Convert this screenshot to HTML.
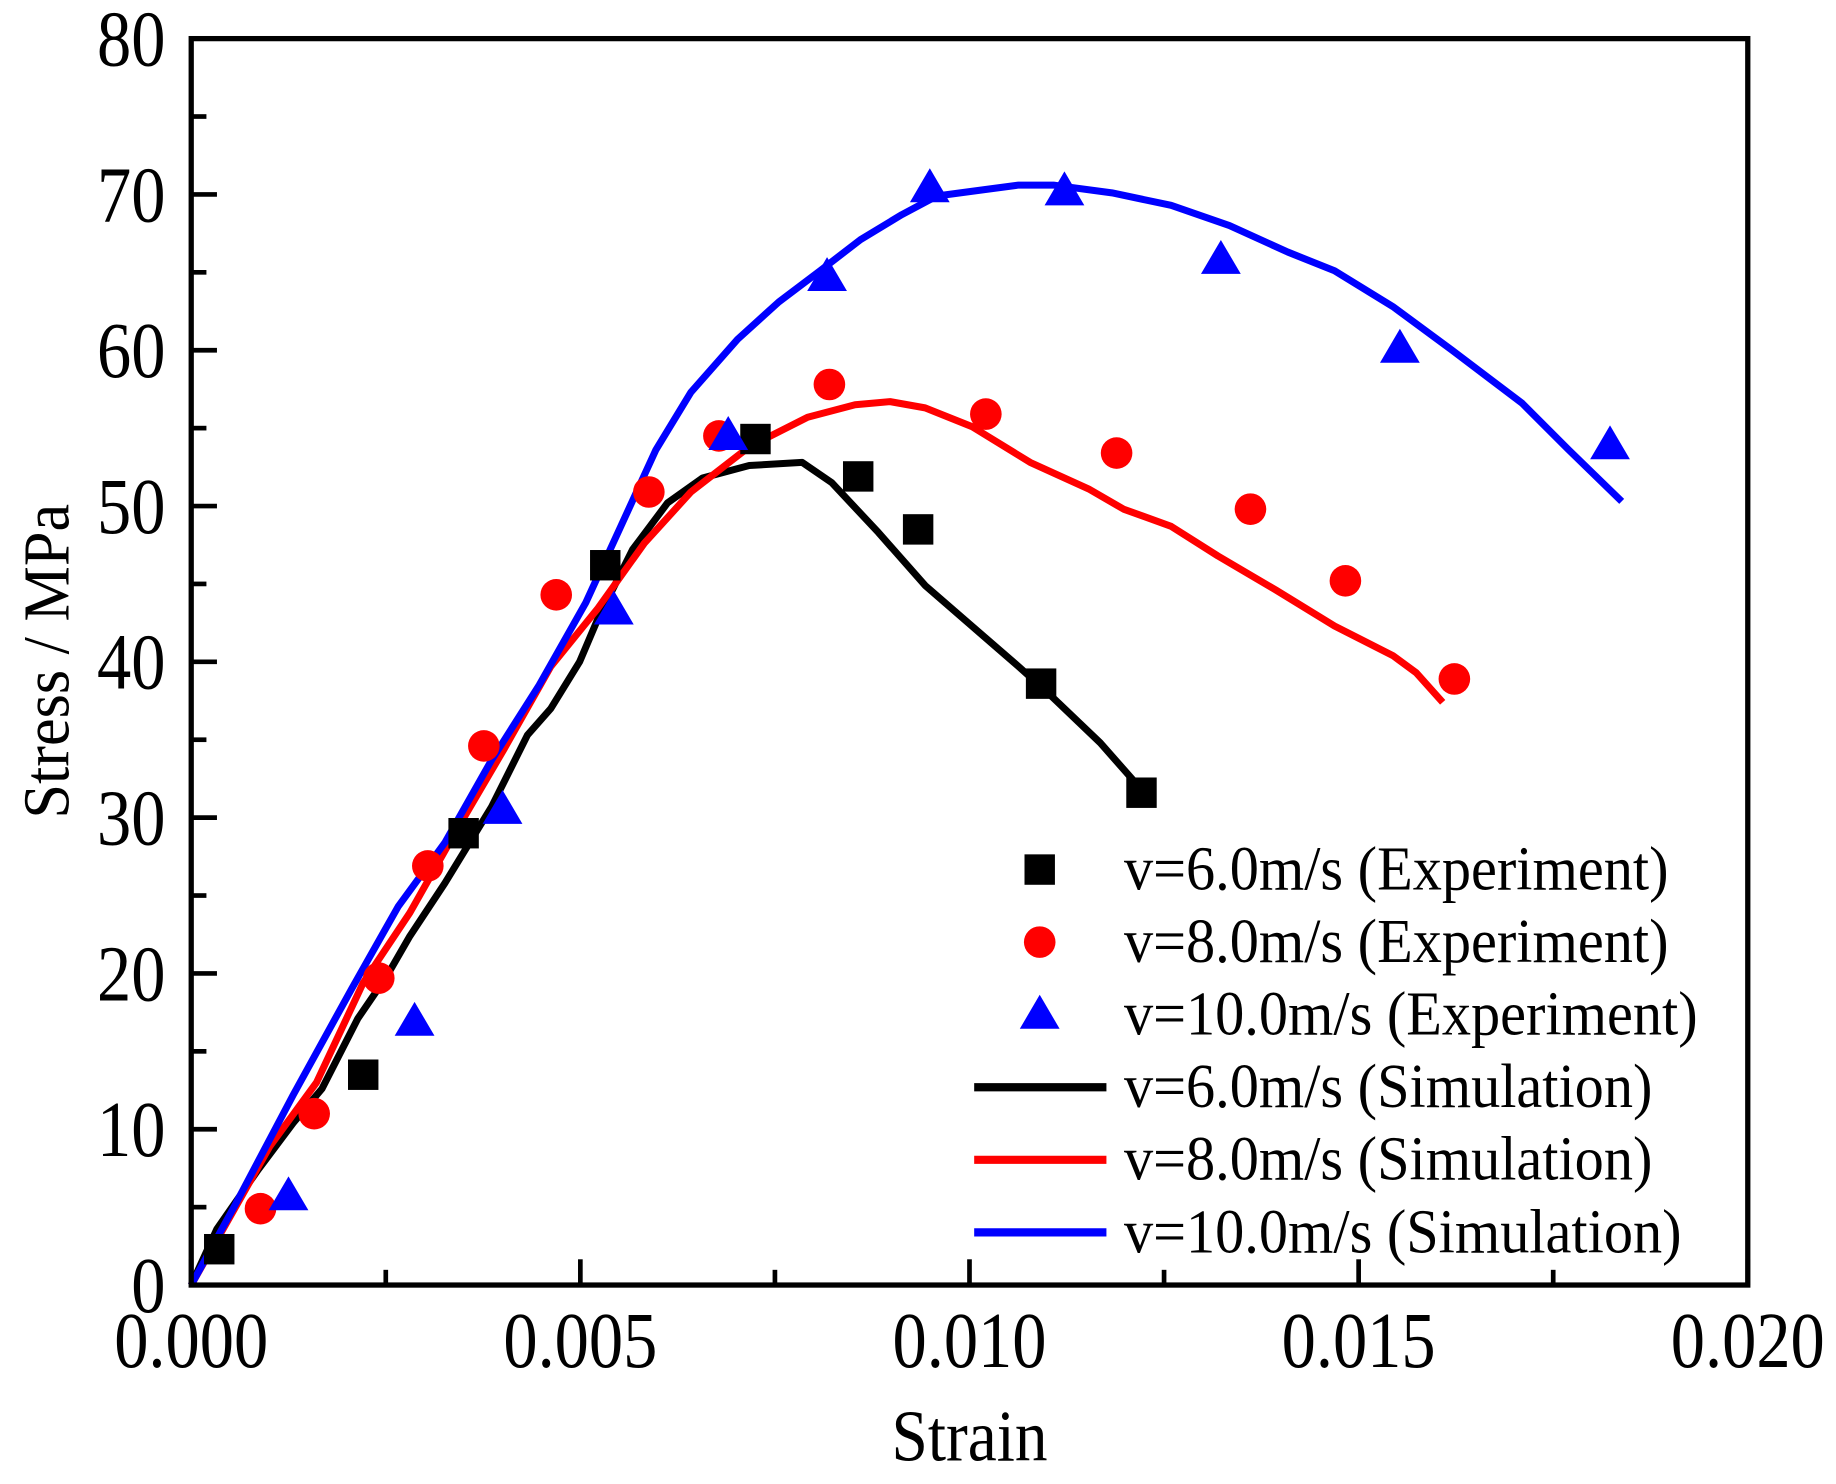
<!DOCTYPE html>
<html><head><meta charset="utf-8"><style>html,body{margin:0;padding:0;background:#fff}svg{display:block}</style></head>
<body>
<svg id="chart" width="1836" height="1484" viewBox="0 0 1568 1268" xmlns="http://www.w3.org/2000/svg" font-family="'Liberation Serif', serif">
<g id="axes"></g>
<g id="series"></g>
<rect x="163" y="33" width="1330" height="1065" fill="none" stroke="#000" stroke-width="4.5"/>
<text transform="translate(828,1248) scale(0.9,1)" font-size="62" text-anchor="middle">Strain</text>
<text transform="translate(58,565) rotate(-90) scale(0.95,1)" font-size="56" text-anchor="middle">Stress / MPa</text>
<g id="legend"></g>
</svg>
<script>
const xTicks=[0,0.005,0.010,0.015,0.020];
const xTickLabels=["0.000","0.005","0.010","0.015","0.020"];
const yTicks=[0,10,20,30,40,50,60,70,80];
const yTickLabels=["0","10","20","30","40","50","60","70","80"];
const exp6x=[0.00036,0.00221,0.0035,0.00532,0.00725,0.00857,0.00934,0.01092,0.01221];
const exp6y=[2.3,13.5,29,46.2,54.3,51.9,48.5,38.6,31.6];
const exp8x=[0.00089,0.00158,0.00241,0.00304,0.00376,0.00469,0.00588,0.00678,0.0082,0.01021,0.01189,0.01361,0.01483,0.01623];
const exp8y=[4.9,11,19.7,26.9,34.6,44.3,50.9,54.5,57.8,55.9,53.4,49.8,45.2,38.9];
const exp10x=[0.00125,0.00287,0.004,0.00543,0.0069,0.00817,0.00949,0.01122,0.01323,0.01553,0.01823];
const exp10y=[5.7,16.9,30.5,43.3,54.5,64.7,70.4,70.2,65.8,60.1,53.9];
const sim6x=[0,0.00033,0.00086,0.00131,0.00168,0.00214,0.00251,0.00281,0.00326,0.00386,0.00432,0.00462,0.00499,0.00522,0.00567,0.00612,0.00657,0.00717,0.00785,0.00823,0.00883,0.00943,0.01003,0.01063,0.01101,0.01168,0.01221];
const sim6y=[0,3.6,7.4,10.4,12.6,17.1,19.8,22.4,25.8,30.7,35.3,37.0,40.0,42.7,47.2,50.2,51.8,52.6,52.8,51.5,48.3,44.9,42.3,39.7,38.0,34.8,31.8];
const sim8x=[0,0.00041,0.00101,0.00161,0.00221,0.00281,0.00341,0.00402,0.00462,0.00522,0.00582,0.00642,0.00717,0.00792,0.00853,0.00898,0.00943,0.01003,0.01078,0.01153,0.01198,0.01259,0.01319,0.01394,0.01469,0.01544,0.01574,0.01608];
const sim8y=[0,3.6,8.9,13.0,19.4,23.9,29.2,34.4,39.7,43.4,47.6,50.9,53.8,55.7,56.5,56.7,56.3,55.1,52.8,51.1,49.8,48.7,46.8,44.6,42.3,40.4,39.3,37.4];
const sim10x=[0,0.00056,0.00131,0.00206,0.00266,0.00326,0.00386,0.00447,0.00507,0.00552,0.00597,0.00642,0.00702,0.00755,0.00808,0.0086,0.00913,0.00958,0.01018,0.01063,0.01108,0.01183,0.01259,0.01334,0.01409,0.01469,0.01544,0.0162,0.0171,0.0177,0.01838];
const sim10y=[0,5.1,12.2,19.0,24.3,28.4,33.7,38.5,43.8,48.7,53.6,57.3,60.7,63.1,65.1,67.1,68.7,69.9,70.3,70.6,70.6,70.1,69.3,68.0,66.3,65.1,62.8,60.0,56.6,53.6,50.3];

const NS="http://www.w3.org/2000/svg";
const X0=163,X1=1493,Y0=1098,Y1=33;
function sx(v){return X0+(v-0)/(0.020)*(X1-X0);}
function sy(v){return Y0-(v/80)*(Y0-Y1);}
function mk(tag,attrs,parent){const e=document.createElementNS(NS,tag);for(const k in attrs)e.setAttribute(k,attrs[k]);parent.appendChild(e);return e;}
const axes=document.getElementById('axes');
xTicks.forEach((t,i)=>{
  const l=mk('line',{x1:sx(t),x2:sx(t),y1:Y0,y2:Y0-22,stroke:'#000','stroke-width':4},axes);
  
  
  const tx=mk('text',{transform:`translate(${sx(t)},1168) scale(0.86,1)`,'font-size':68,'text-anchor':'middle'},axes);
  tx.textContent=xTickLabels[i];
  
  
  if(i<xTicks.length-1){
    const m=mk('line',{x1:sx(t+0.0025),x2:sx(t+0.0025),y1:Y0,y2:Y0-13,stroke:'#000','stroke-width':4},axes);
    
    
  }
});
yTicks.forEach((t,i)=>{
  const l=mk('line',{x1:X0,x2:X0+22,y1:sy(t),y2:sy(t),stroke:'#000','stroke-width':4},axes);
  
  
  const tx=mk('text',{transform:`translate(141,${sy(t)+23}) scale(0.86,1)`,'font-size':68,'text-anchor':'end'},axes);
  tx.textContent=yTickLabels[i];
  
  
  if(i<yTicks.length-1){
    const m=mk('line',{x1:X0,x2:X0+13,y1:sy(t+5),y2:sy(t+5),stroke:'#000','stroke-width':4},axes);
    
    
  }
});
const ser=document.getElementById('series');
function line(xs,ys,color,name){
  const p=mk('polyline',{points:xs.map((x,i)=>sx(x)+','+sy(ys[i])).join(' '),fill:'none',stroke:color,'stroke-width':6,'stroke-linejoin':'round'},ser);
  
  
}
function marker(type,x,y,color,g){
  let e;
  if(type==='sq') e=mk('rect',{x:x-13,y:y-13,width:26,height:26,fill:color},g);
  else if(type==='ci') e=mk('circle',{cx:x,cy:y,r:13.5,fill:color},g);
  else e=mk('polygon',{points:`${x},${y-17} ${x-17},${y+12} ${x+17},${y+12}`,fill:color},g);
  return e;
}
line(sim6x,sim6y,'#000','sim-6-line');
line(sim8x,sim8y,'#f00','sim-8-line');
line(sim10x,sim10y,'#00f','sim-10-line');
[[exp6x,exp6y,'sq','#000','exp-6-point'],[exp8x,exp8y,'ci','#f00','exp-8-point'],[exp10x,exp10y,'tr','#00f','exp-10-point']].forEach(([xs,ys,t,c,n])=>{
  xs.forEach((x,i)=>{
    const e=marker(t,sx(x),sy(ys[i]),c,ser);
    
    
  });
});
const leg=document.getElementById('legend');
const legLabels=["v=6.0m/s (Experiment)","v=8.0m/s (Experiment)","v=10.0m/s (Experiment)","v=6.0m/s (Simulation)","v=8.0m/s (Simulation)","v=10.0m/s (Simulation)"];
const legCols=['#000','#f00','#00f','#000','#f00','#00f'];
const legTypes=['sq','ci','tr','ln','ln','ln'];
legLabels.forEach((lab,i)=>{
  const y=743+i*62;
  let e;
  if(legTypes[i]==='ln') e=mk('line',{x1:832,x2:945,y1:y,y2:y,stroke:legCols[i],'stroke-width':7},leg);
  else e=marker(legTypes[i],888,y,legCols[i],leg);
  
  
  const t=mk('text',{transform:`translate(960,${y+17}) scale(0.94,1)`,'font-size':53},leg);
  t.textContent=lab;
  
  
});
</script>
</body></html>
